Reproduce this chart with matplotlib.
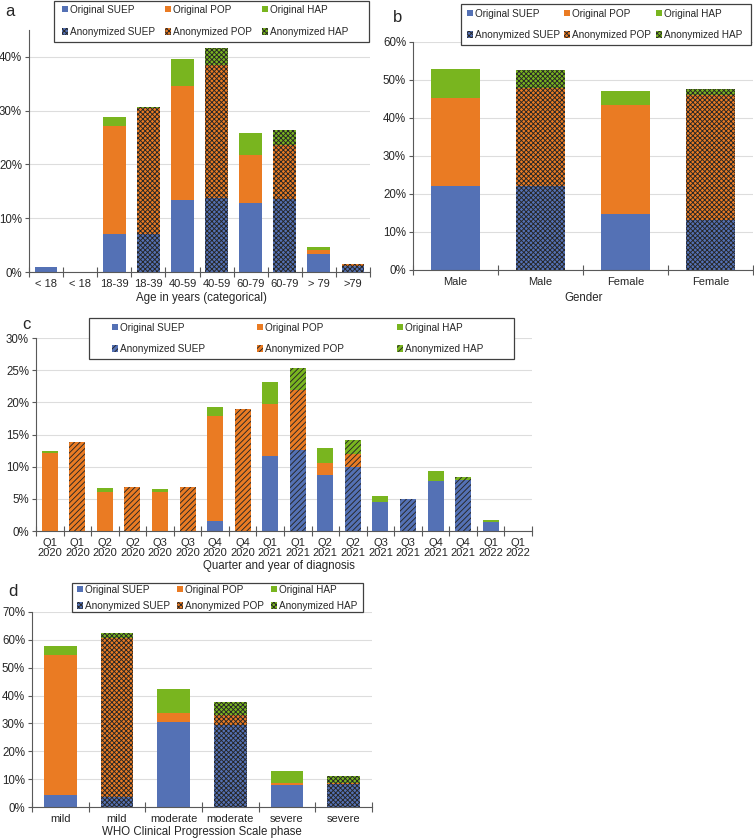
import numpy as np
import matplotlib.pyplot as plt
from matplotlib.patches import Patch, Rectangle

plt.rcParams['font.family'] = ['Liberation Sans', 'DejaVu Sans']
plt.rcParams['text.color'] = '#262626'
plt.rcParams['xtick.color'] = '#262626'
plt.rcParams['ytick.color'] = '#262626'
plt.rcParams['hatch.linewidth'] = 0.65

# cores (estilo Excel)
c_suep = '#5471B5'
c_pop = '#EA7B23'
c_hap = '#79B51F'
c_hatch = '#262626'

# (a) idade -- pares original / anonimizado
age_cats = ['< 18', '< 18', '18-39', '18-39', '40-59', '40-59', '60-79', '60-79', '> 79', '>79']
age_suep = [0.9, 0.0, 7.0, 7.0, 13.3, 13.8, 12.8, 13.6, 3.3, 1.1]
age_pop = [0.0, 0.0, 20.1, 23.5, 21.2, 24.6, 9.0, 10.0, 0.7, 0.3]
age_hap = [0.0, 0.0, 1.7, 0.1, 5.1, 3.3, 4.1, 2.8, 0.6, 0.1]

# (b) genero
gen_cats = ['Male', 'Male', 'Female', 'Female']
gen_suep = [22.2, 22.1, 14.7, 13.1]
gen_pop = [23.0, 25.8, 28.6, 33.0]
gen_hap = [7.8, 4.6, 3.8, 1.4]

# (c) trimestre de diagnostico
qtr_cats = ['Q1\n2020', 'Q1\n2020', 'Q2\n2020', 'Q2\n2020', 'Q3\n2020', 'Q3\n2020',
            'Q4\n2020', 'Q4\n2020', 'Q1\n2021', 'Q1\n2021', 'Q2\n2021', 'Q2\n2021',
            'Q3\n2021', 'Q3\n2021', 'Q4\n2021', 'Q4\n2021', 'Q1\n2022', 'Q1\n2022']
qtr_suep = [0, 0, 0, 0, 0, 0, 1.5, 0, 11.6, 12.6, 8.7, 9.9, 4.5, 4.9, 7.8, 7.85, 1.4, 0]
qtr_pop = [12.2, 13.8, 6.0, 6.9, 6.1, 6.8, 16.3, 18.9, 8.1, 9.3, 1.9, 2.1, 0, 0, 0, 0, 0, 0]
qtr_hap = [0.2, 0, 0.65, 0, 0.5, 0, 1.4, 0, 3.4, 3.4, 2.3, 2.1, 0.95, 0, 1.6, 0.55, 0.25, 0]

# (d) fase WHO
who_cats = ['mild', 'mild', 'moderate', 'moderate', 'severe', 'severe']
who_suep = [4.3, 3.7, 30.4, 29.4, 7.9, 8.1]
who_pop = [50.1, 57.1, 3.5, 3.7, 0.7, 0.5]
who_hap = [3.5, 1.5, 8.4, 4.7, 4.3, 2.6]

W, H = 754, 838
fig = plt.figure(figsize=(W / 100, H / 100), dpi=100)


def px_axes(x0, y_top, x1, y_bot):
    # cria eixo a partir de coordenadas em pixels
    return fig.add_axes([x0 / W, 1 - y_bot / H, (x1 - x0) / W, (y_bot - y_top) / H])


def painel(ax, cats, suep, pop, hap, largura, hatch, ymax, ystep):
    n = len(cats)
    x = np.arange(n)
    for i in range(n):
        anon = (i % 2 == 1)
        base = 0
        for val, cor in [(suep[i], c_suep), (pop[i], c_pop), (hap[i], c_hap)]:
            if anon:
                ax.bar(x[i], val, largura, bottom=base, color=cor, edgecolor=c_hatch,
                       linewidth=0, hatch=hatch, zorder=2)
            else:
                ax.bar(x[i], val, largura, bottom=base, color=cor, linewidth=0, zorder=2)
            base += val
    ax.set_xlim(-0.5, n - 0.5)
    ax.set_ylim(0, ymax)
    ax.set_yticks(np.arange(0, ymax + 0.01, ystep))
    ax.yaxis.set_major_formatter(lambda v, p: f'{v:.0f}%')
    ax.set_xticks(np.arange(n + 1) - 0.5)
    ax.set_xticklabels([])
    ax.set_xticks(x, minor=True)
    ax.set_xticklabels(cats, minor=True, fontsize=8, linespacing=1.05)
    ax.tick_params(axis='x', which='major', direction='inout', length=7, color='#595959', width=0.8)
    ax.tick_params(axis='x', which='minor', length=0, pad=5)
    ax.tick_params(axis='y', length=3, color='#595959', width=0.8, labelsize=8.3, pad=2)
    ax.grid(axis='y', color='#DDDDDD', linewidth=0.8, zorder=0)
    ax.set_axisbelow(True)
    for s in ['top', 'right']:
        ax.spines[s].set_visible(False)
    for s in ['left', 'bottom']:
        ax.spines[s].set_color('#595959')
        ax.spines[s].set_linewidth(0.8)


def legenda(hatch, caixa, x0, x1, y_top, labelspacing):
    # caixa = (esquerda, topo, direita, base) em pixels
    bx0, by0, bx1, by1 = caixa
    fig.add_artist(Rectangle((bx0 / W, 1 - by1 / H), (bx1 - bx0) / W, (by1 - by0) / H,
                             transform=fig.transFigure, facecolor='white',
                             edgecolor='#404040', linewidth=0.9, zorder=4))
    h = [Patch(facecolor=c_suep, label='Original SUEP'),
         Patch(facecolor=c_suep, edgecolor=c_hatch, linewidth=0, hatch=hatch, label='Anonymized SUEP'),
         Patch(facecolor=c_pop, label='Original POP'),
         Patch(facecolor=c_pop, edgecolor=c_hatch, linewidth=0, hatch=hatch, label='Anonymized POP'),
         Patch(facecolor=c_hap, label='Original HAP'),
         Patch(facecolor=c_hap, edgecolor=c_hatch, linewidth=0, hatch=hatch, label='Anonymized HAP')]
    leg = fig.legend(handles=h, ncol=3, loc='upper left', mode='expand',
                     bbox_to_anchor=(x0 / W, 1 - y_top / H, (x1 - x0) / W, 0.001),
                     bbox_transform=fig.transFigure, fontsize=7.2, frameon=False,
                     handlelength=0.6, handleheight=0.6, handletextpad=0.2,
                     labelspacing=labelspacing, borderpad=0, borderaxespad=0)
    leg.set_zorder(5)
    return leg


hx = 'xxxxxxx'
hc = '//////'

# painel a
ax1 = px_axes(29, 30, 370, 272)
painel(ax1, age_cats, age_suep, age_pop, age_hap, 0.67, hx, 45, 10)
ax1.set_yticks([0, 10, 20, 30, 40])
legenda(hx, (54, 1, 369, 42), 62, 348, 5.5, 1.22)
fig.text(201 / W, 1 - 298 / H, 'Age in years (categorical)', ha='center', va='center', fontsize=8.3)
fig.text(10 / W, 1 - 12 / H, 'a', ha='center', va='center', fontsize=12)

# painel b
ax2 = px_axes(413, 42, 753, 270)
painel(ax2, gen_cats, gen_suep, gen_pop, gen_hap, 0.565, hx, 60, 10)
legenda(hx, (461, 4, 751, 45), 467, 742, 9.5, 1.12)
fig.text(584 / W, 1 - 298 / H, 'Gender', ha='center', va='center', fontsize=8.3)
fig.text(398 / W, 1 - 18 / H, 'b', ha='center', va='center', fontsize=12)

# painel c
ax3 = px_axes(36, 338, 532, 531)
painel(ax3, qtr_cats, qtr_suep, qtr_pop, qtr_hap, 0.58, hc, 30, 5)
legenda(hc, (89, 318, 514, 359), 112, 483, 323.5, 1.12)
fig.text(279 / W, 1 - 566 / H, 'Quarter and year of diagnosis', ha='center', va='center', fontsize=8.3)
fig.text(26 / W, 1 - 324 / H, 'c', ha='center', va='center', fontsize=12)

# painel d
ax4 = px_axes(32, 612, 372, 807)
painel(ax4, who_cats, who_suep, who_pop, who_hap, 0.58, hx, 70, 10)
legenda(hx, (72, 583, 363, 612), 77, 357, 585.5, 0.62)
fig.text(202 / W, 1 - 832 / H, 'WHO Clinical Progression Scale phase', ha='center', va='center', fontsize=8.3)
fig.text(13 / W, 1 - 591 / H, 'd', ha='center', va='center', fontsize=12)

fig.savefig('out.png', dpi=100)
